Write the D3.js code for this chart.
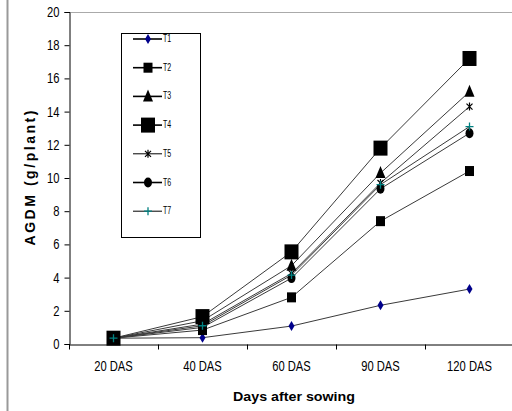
<!DOCTYPE html>
<html>
<head>
<meta charset="utf-8">
<script src="https://cdn.jsdelivr.net/npm/d3@7"></script>
<style>
body{margin:0;background:#fff;}
text{font-family:"Liberation Sans",Arial,sans-serif;}
</style>
</head>
<body>
<div id="chart"></div>
<script>
// days after sowing
const stages=["20 DAS","40 DAS","60 DAS","90 DAS","120 DAS"];
const yTicks=[0,2,4,6,8,10,12,14,16,18,20];

const T1=[0.35,0.38,1.08,2.33,3.31];
const T2=[0.35,0.84,2.81,7.4,10.42];
const T3=[0.35,1.4,4.72,10.3,15.2];
const T4=[0.35,1.65,5.55,11.8,17.2];
const T5=[0.35,1.2,4.25,9.7,14.3];
const T6=[0.35,1.0,3.97,9.35,12.7];
const T7=[0.35,1.1,4.15,9.6,13.1];

const seriesNames=["T1","T2","T3","T4","T5","T6","T7"];
const seriesVals=[T1,T2,T3,T4,T5,T6,T7];

var W=512,H=411;
var margin={top:12,left:69,bottom:67};

var svg=d3.select("#chart").append("svg")
  .attr("width",W).attr("height",H);

// squeeze text horizontally to look like a narrow font
function narrow(sel,f){
  sel.each(function(){
    var w=this.getComputedTextLength();
    d3.select(this).attr("textLength",w*f).attr("lengthAdjust","spacingAndGlyphs");
  });
}

// outer frame line on the left
svg.append("line").attr("x1",7.5).attr("x2",7.5).attr("y1",0).attr("y2",H)
  .attr("stroke","#999").attr("stroke-width",2);

var x=d3.scaleBand().domain(stages).range([margin.left,margin.left+445]);
var y=d3.scaleLinear().domain([0,20]).range([H-margin.bottom,margin.top]);

// top border of plot area
svg.append("line").attr("x1",margin.left).attr("x2",W).attr("y1",y(20)+0.5).attr("y2",y(20)+0.5)
  .attr("stroke","#aaa");

var yAxis=svg.append("g").attr("transform","translate("+(margin.left+0.5)+",0)")
  .call(d3.axisLeft(y).tickValues(yTicks).tickSize(5).tickPadding(5));
yAxis.selectAll("text").attr("font-size",14).attr("fill","#000").call(narrow,0.8);
yAxis.select(".domain").attr("stroke","#000");

var xAxis=svg.append("g").attr("transform","translate(0,"+(y(0)+0.5)+")")
  .call(d3.axisBottom(x).tickSize(0).tickPadding(17));
xAxis.selectAll("text").attr("font-size",14).attr("fill","#000").call(narrow,0.8);
xAxis.select(".domain").attr("stroke","#000");
// tick marks between categories
xAxis.selectAll(".sep").data(stages).enter().append("line")
  .attr("x1",d=>Math.round(x(d))+0.5).attr("x2",d=>Math.round(x(d))+0.5)
  .attr("y1",0).attr("y2",5).attr("stroke","#000");

svg.append("text").attr("transform","translate(35,178) rotate(-90)")
  .attr("text-anchor","middle").attr("font-weight","bold").attr("font-size",14)
  .attr("textLength",135).attr("lengthAdjust","spacing").text("AGDM (g/plant)");
svg.append("text").attr("x",294).attr("y",401)
  .attr("text-anchor","middle").attr("font-weight","bold").attr("font-size",13)
  .attr("textLength",122).attr("lengthAdjust","spacingAndGlyphs").text("Days after sowing");

function drawMarker(g,i,cx,cy){
  if(i==0){
    g.append("path").attr("d","M0,-5L3,0L0,5L-3,0Z").attr("transform","translate("+cx+","+cy+")").attr("fill","#00008b");
  } else if(i==1){
    g.append("rect").attr("x",cx-4.5).attr("y",cy-5).attr("width",9).attr("height",10).attr("fill","#000");
  } else if(i==2){
    g.append("path").attr("d","M0,-7L5,5L-5,5Z").attr("transform","translate("+cx+","+cy+")").attr("fill","#000");
  } else if(i==3){
    g.append("rect").attr("x",cx-7).attr("y",cy-7.5).attr("width",14).attr("height",15).attr("fill","#000");
  } else if(i==4){
    g.append("path").attr("d","M-3,-3L3,3M3,-3L-3,3M0,-4L0,4").attr("transform","translate("+cx+","+cy+")").attr("stroke","#000").attr("stroke-width",1.2);
  } else if(i==5){
    g.append("ellipse").attr("cx",cx).attr("cy",cy).attr("rx",4).attr("ry",5).attr("fill","#000");
  } else {
    g.append("path").attr("d","M-4,0L4,0M0,-4L0,4").attr("transform","translate("+cx+","+cy+")").attr("stroke","#008080").attr("stroke-width",1.3);
  }
}

var line=d3.line().x((d,j)=>x(stages[j])+x.bandwidth()/2).y(d=>y(d));
var plot=svg.append("g");
seriesVals.forEach(function(vals,i){
  plot.append("path").datum(vals).attr("d",line).attr("fill","none")
    .attr("stroke","#3a3a3a").attr("stroke-width",1);
});
seriesVals.forEach(function(vals,i){
  vals.forEach(function(v,j){
    drawMarker(plot,i,x(stages[j])+x.bandwidth()/2,y(v));
  });
});

// legend
var lg=svg.append("g");
lg.append("rect").attr("x",121.5).attr("y",33.5).attr("width",79).attr("height",204)
  .attr("fill","#fff").attr("stroke","#000");
seriesNames.forEach(function(n,i){
  var ly=39+i*28.7;
  lg.append("line").attr("x1",133).attr("x2",162).attr("y1",ly).attr("y2",ly)
    .attr("stroke","#000").attr("stroke-width",i<4||i==5?1.6:1);
  drawMarker(lg,i,148,ly);
  lg.append("text").attr("x",163).attr("y",ly+3).attr("font-size",10).text(n).call(narrow,0.7);
});
</script>
</body>
</html>
